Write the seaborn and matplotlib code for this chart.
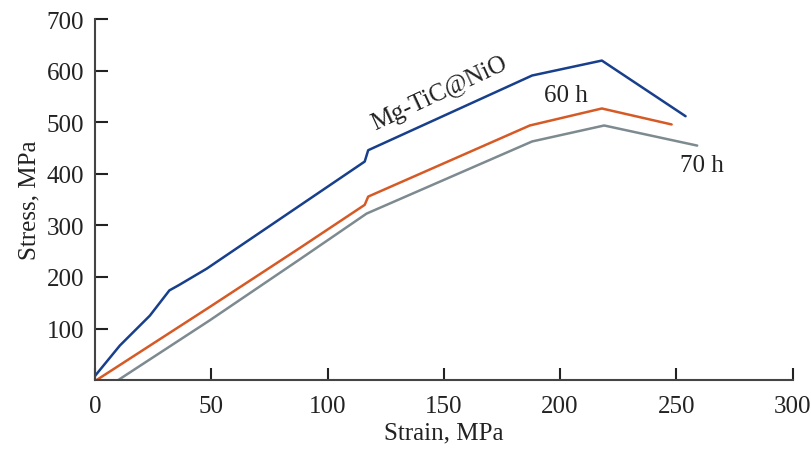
import matplotlib
matplotlib.use("Agg")
import matplotlib.pyplot as plt
import seaborn as sns
import pandas as pd

# Mg-TiC@NiO (blue)
x_base = [0, 10.7, 23.6, 32, 36, 48, 116, 117.5, 188, 218, 254]
y_base = [8, 67, 125, 174, 184, 216, 424, 446, 591, 620, 512]
# 60 h (orange)
x_60 = [0.7, 49.4, 88, 116, 117.5, 187, 218, 248]
y_60 = [0, 142, 256, 340, 356, 494, 527, 496]
# 70 h (gray)
x_70 = [10, 49.4, 88, 116.8, 188, 219, 259]
y_70 = [0, 116, 234, 323, 463, 494, 455]

series_names = ["Mg-TiC@NiO", "60 h", "70 h"]
colors = ["#173f8c", "#d65a25", "#7d8a90"]

frames = []
for name, xs, ys in zip(series_names, [x_base, x_60, x_70], [y_base, y_60, y_70]):
    frames.append(pd.DataFrame({"strain": xs, "stress": ys, "series": name}))
df = pd.concat(frames, ignore_index=True)

sns.set_style("white")
plt.rcParams["font.family"] = ["Liberation Serif", "DejaVu Serif"]

fig, ax = plt.subplots(figsize=(8.12, 4.52), dpi=100)
fig.subplots_adjust(left=0.117, right=0.976, top=0.955, bottom=0.157)

sns.lineplot(data=df, x="strain", y="stress", hue="series", palette=colors,
             hue_order=series_names, sort=False, estimator=None, linewidth=1.8,
             legend=False, ax=ax)

ax.set_xlim(0, 300)
ax.set_ylim(0, 700)
ax.set_xticks([0, 50, 100, 150, 200, 250, 300])
ax.set_yticks([100, 200, 300, 400, 500, 600, 700])
ax.tick_params(bottom=True, left=True, direction="in", length=9, width=1.5,
               labelsize=18, colors="#222222", labelcolor="#222222", pad=8)
ax.tick_params(axis="x", pad=11)
for s in ["top", "right"]:
    ax.spines[s].set_visible(False)
for s in ["left", "bottom"]:
    ax.spines[s].set_color("#444444")
    ax.spines[s].set_linewidth(1.5)

ax.set_xlabel("Strain, MPa", fontsize=18, color="#222222", labelpad=3)
ax.set_ylabel("Stress, MPa", fontsize=18, color="#222222", labelpad=4)

ax.text(148, 558, "Mg-TiC@NiO", fontsize=18, rotation=25, ha="center",
        va="center", color="#222222")
ax.text(202.5, 553, "60 h", fontsize=18, ha="center", va="center", color="#222222")
ax.text(261, 418, "70 h", fontsize=18, ha="center", va="center", color="#222222")

fig.savefig("out.png", dpi=100)
